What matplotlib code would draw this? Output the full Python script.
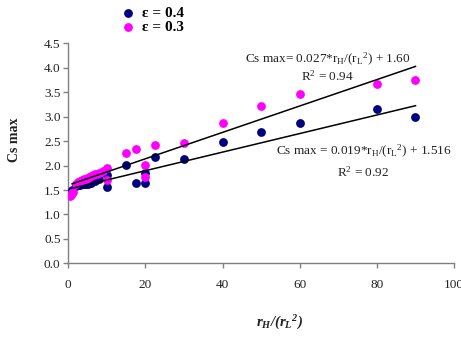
import matplotlib
matplotlib.use("Agg")
import matplotlib.pyplot as plt
import numpy as np

# ---- data ----
x_e03 = [0.5, 0.75, 1.0, 1.25, 2.0, 2.5, 3.0, 3.5, 4.0, 4.5, 5.0, 5.5, 6.0, 6.5,
         7.0, 7.5, 8.0, 9.0, 10.0, 10.0, 15.0, 17.5, 20.0, 20.0, 22.5, 30.0,
         40.0, 50.0, 60.0, 80.0, 90.0]
y_e03 = [1.38, 1.40, 1.43, 1.47, 1.62, 1.66, 1.69, 1.70, 1.72, 1.73, 1.75, 1.77,
         1.78, 1.80, 1.82, 1.83, 1.85, 1.88, 1.96, 1.70, 2.25, 2.33, 2.01, 1.77,
         2.42, 2.47, 2.87, 3.22, 3.46, 3.66, 3.75]

x_e04 = [1.0, 2.0, 2.5, 3.0, 3.5, 4.0, 4.5, 5.0, 5.5, 6.0, 7.0, 8.0, 10.0, 10.0,
         15.0, 17.5, 20.0, 20.0, 22.5, 30.0, 40.0, 50.0, 60.0, 80.0, 90.0]
y_e04 = [1.50, 1.58, 1.60, 1.61, 1.62, 1.62, 1.63, 1.63, 1.64, 1.65, 1.68, 1.72,
         1.80, 1.57, 2.02, 1.64, 1.85, 1.64, 2.18, 2.14, 2.49, 2.68, 2.88, 3.15,
         2.99]

fit_slopes = [0.027, 0.019]
fit_intercepts = [1.60, 1.516]
fit_range = [1.0, 90.0]

x_ticks = [0, 20, 40, 60, 80, 100]
y_ticks = [0.0, 0.5, 1.0, 1.5, 2.0, 2.5, 3.0, 3.5, 4.0, 4.5]
legend_labels = ["ε = 0.4", "ε = 0.3"]

# ---- figure ----
serif = ["Liberation Serif", "DejaVu Serif"]
plt.rcParams["font.family"] = serif

fig = plt.figure(figsize=(4.61, 3.42), dpi=100)
ax = fig.add_axes([0.148, 0.230, 0.837, 0.643])

navy = "#000080"
magenta = "#ff00ff"
ms = 40

h1 = ax.scatter(x_e04, y_e04, s=ms, color=navy, zorder=3, linewidths=0)
h2 = ax.scatter(x_e03, y_e03, s=ms, color=magenta, zorder=3, linewidths=0)

xf = np.array(fit_range)
for m, b in zip(fit_slopes, fit_intercepts):
    ax.plot(xf, m * xf + b, color="black", lw=1.1, zorder=4)

ax.set_xlim(0, 100)
ax.set_ylim(0, 4.5)
ax.set_xticks(x_ticks)
ax.set_yticks(y_ticks)
ax.set_yticklabels([f"{v:.1f}" for v in y_ticks])
ax.set_xticklabels([str(v) for v in x_ticks])

for s in ["top", "right"]:
    ax.spines[s].set_visible(False)
for s in ["left", "bottom"]:
    ax.spines[s].set_color("#808080")
    ax.spines[s].set_linewidth(1.0)
ax.tick_params(axis="both", direction="out", length=3.5, width=1.0,
               color="#808080", labelsize=9.5, labelcolor="#222222")
ax.tick_params(axis="x", pad=8)
ax.tick_params(axis="y", pad=2)

eq = r"$\mathregular{r_H/(r_L{}^{2})}$"
# annotations
ax.text(0.674, 0.925, "Cs max= 0.027*" + eq + " + 1.60",
        transform=ax.transAxes, ha="center", va="center", fontsize=9.5, color="#222222")
ax.text(0.672, 0.850, r"R$\mathregular{^2}$ = 0.94",
        transform=ax.transAxes, ha="center", va="center", fontsize=9.5, color="#222222")
ax.text(0.765, 0.507, "Cs max = 0.019*" + eq + " + 1.516",
        transform=ax.transAxes, ha="center", va="center", fontsize=9.5, color="#222222")
ax.text(0.765, 0.415, r"R$\mathregular{^2}$ = 0.92",
        transform=ax.transAxes, ha="center", va="center", fontsize=9.5, color="#222222")

# axis labels
fig.text(14 / 461, 1 - 140 / 342, "Cs max", rotation=90, ha="center", va="center",
         fontsize=10, fontweight="bold", color="#222222")
fig.text(280 / 461, 1 - 323 / 342, eq, ha="center",
         va="center", fontsize=10.5, fontweight="bold", style="italic", color="#222222")

# legend
fig.legend([h1, h2], legend_labels, loc="upper left",
           bbox_to_anchor=(120 / 461, 1 - 6 / 342), frameon=False,
           borderpad=0, borderaxespad=0, handlelength=1.0, handletextpad=0.45,
           labelspacing=0.05, prop={"family": serif, "weight": "bold", "size": 11})

fig.savefig("out.png", dpi=100)
